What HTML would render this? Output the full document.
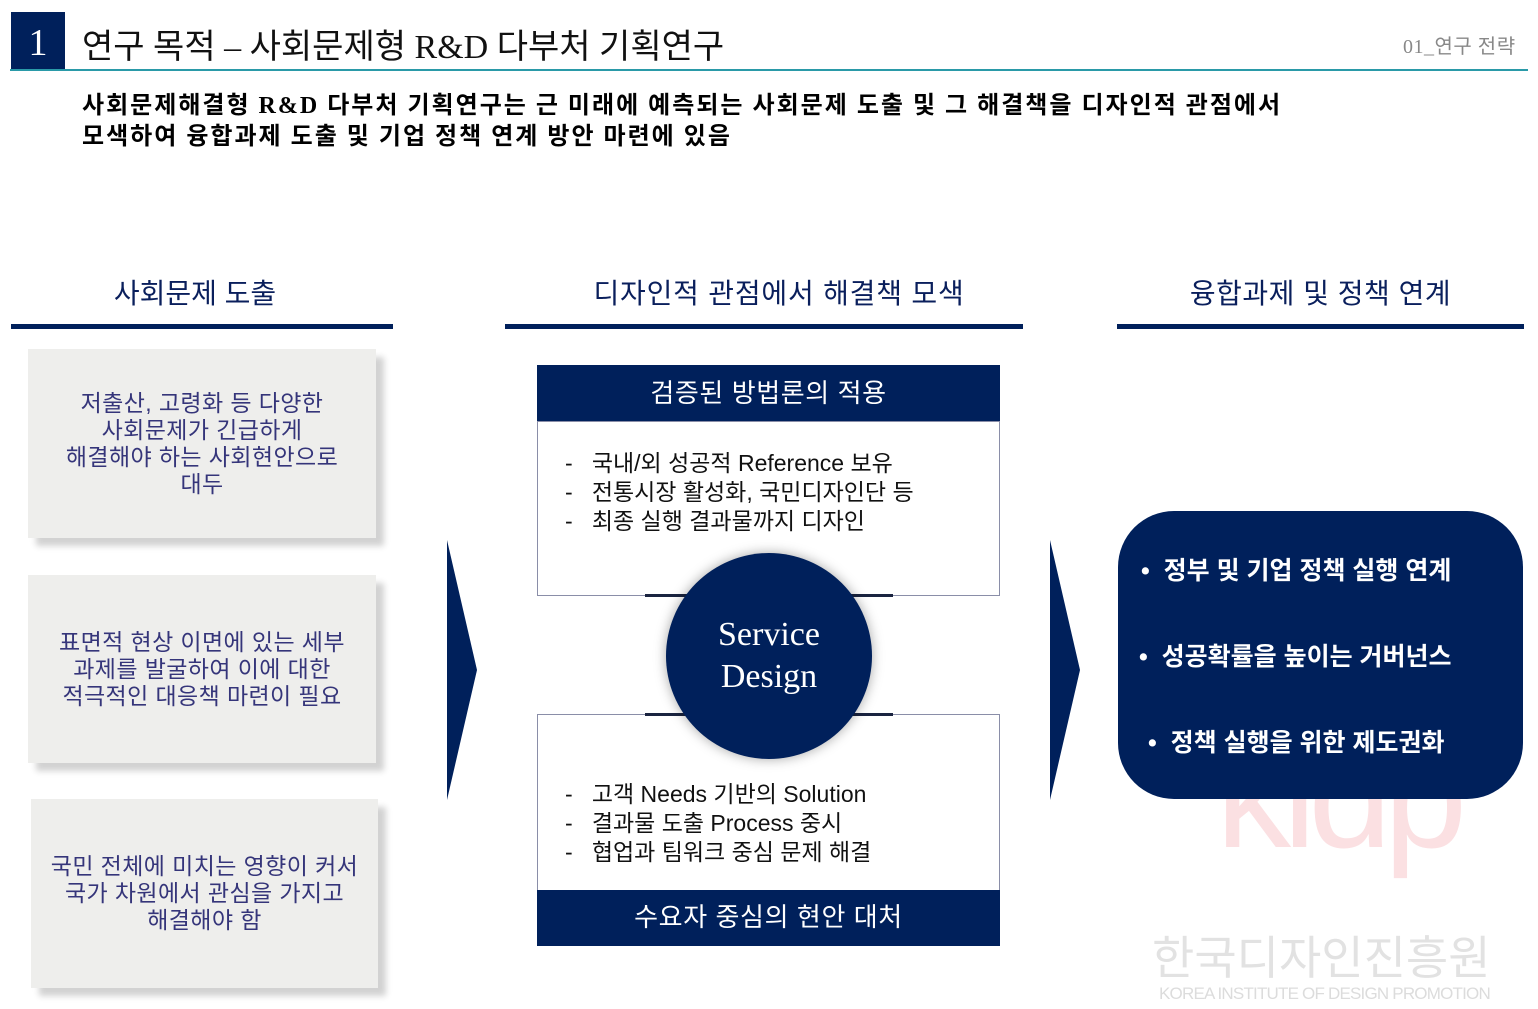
<!DOCTYPE html>
<html><head><meta charset="utf-8"><style>
*{margin:0;padding:0;box-sizing:border-box}
body{width:1538px;height:1009px;background:#fff;position:relative;overflow:hidden;font-family:"Liberation Sans","Noto Sans CJK KR",sans-serif}
.a{position:absolute}
.t{white-space:nowrap}
.lb{background:#eeeeec;box-shadow:8px 8px 6px rgba(0,0,0,0.18);color:#35357a;font-size:23px;letter-spacing:0.4px;line-height:27px;text-align:center;display:flex;align-items:center;justify-content:center}
.hd{font-size:28px;color:#0a1f5c;text-align:center}
.ul{height:5px;background:#00205b}
.nv{background:#00205b;color:#fff;text-align:center}
.bx{border:1.5px solid #8a8ea8;background:#fff}
.bl{font-size:23px;line-height:29px;color:#111}
.rb{font-size:25px;font-weight:bold;color:#fff}
</style></head><body>
<div class="a" style="left:11px;top:12px;width:54px;height:58px;background:#00205b;color:#fff;font-family:'Liberation Serif',serif;font-size:38px;text-align:center;line-height:62px">1</div>
<div class="a t" style="left:82px;top:19px;font-size:34px;color:#111;font-family:'Liberation Serif','Noto Sans CJK KR',sans-serif">연구 목적 – 사회문제형 R&amp;D 다부처 기획연구</div>
<div class="a" style="left:10px;top:69px;width:1518px;height:2px;background:#2a9aa8"></div>
<div class="a t" style="left:1403px;top:30px;font-size:20px;letter-spacing:0.5px;color:#888;font-family:'Liberation Serif','Noto Sans CJK KR',serif">01_연구 전략</div>
<div class="a t" style="left:82px;top:91px;font-size:24px;letter-spacing:2px;font-weight:bold;line-height:31px;color:#000;font-family:'Liberation Serif','Noto Sans CJK KR',sans-serif">사회문제해결형 R&amp;D 다부처 기획연구는 근 미래에 예측되는 사회문제 도출 및 그 해결책을 디자인적 관점에서<br>모색하여 융합과제 도출 및 기업 정책 연계 방안 마련에 있음</div>

<div class="a hd t" style="left:11px;width:368px;top:272px">사회문제 도출</div>
<div class="a ul" style="left:11px;width:382px;top:324px"></div>
<div class="a hd t" style="left:505px;width:548px;top:272px;letter-spacing:0.8px">디자인적 관점에서 해결책 모색</div>
<div class="a ul" style="left:505px;width:518px;top:324px"></div>
<div class="a hd t" style="left:1117px;width:407px;top:272px;letter-spacing:0.5px">융합과제 및 정책 연계</div>
<div class="a ul" style="left:1117px;width:407px;top:324px"></div>

<div class="a lb" style="left:28px;top:349px;width:348px;height:189px">저출산, 고령화 등 다양한<br>사회문제가 긴급하게<br>해결해야 하는 사회현안으로<br>대두</div>
<div class="a lb" style="left:28px;top:575px;width:348px;height:188px">표면적 현상 이면에 있는 세부<br>과제를 발굴하여 이에 대한<br>적극적인 대응책 마련이 필요</div>
<div class="a lb" style="left:31px;top:799px;width:347px;height:189px">국민 전체에 미치는 영향이 커서<br>국가 차원에서 관심을 가지고<br>해결해야 함</div>

<svg class="a" style="left:0;top:0" width="1538" height="1009">
<polygon points="447,540 477,670 447,800" fill="#00205b"/>
<polygon points="1050,540 1080,670 1050,800" fill="#00205b"/>
</svg>

<div class="a nv t" style="left:537px;top:365px;width:463px;height:56px;font-size:26px;letter-spacing:0.6px;line-height:56px">검증된 방법론의 적용</div>
<div class="a bx" style="left:537px;top:421px;width:463px;height:175px"></div>
<div class="a bl t" style="left:565px;top:449px">-&nbsp;&nbsp;&nbsp;국내/외 성공적 Reference 보유<br>-&nbsp;&nbsp;&nbsp;전통시장 활성화, 국민디자인단 등<br>-&nbsp;&nbsp;&nbsp;최종 실행 결과물까지 디자인</div>
<div class="a bx" style="left:537px;top:714px;width:463px;height:178px"></div>
<div class="a bl t" style="left:565px;top:780px">-&nbsp;&nbsp;&nbsp;고객 Needs 기반의 Solution<br>-&nbsp;&nbsp;&nbsp;결과물 도출 Process 중시<br>-&nbsp;&nbsp;&nbsp;협업과 팀워크 중심 문제 해결</div>
<div class="a nv t" style="left:537px;top:890px;width:463px;height:56px;font-size:26px;letter-spacing:0.6px;line-height:54px">수요자 중심의 현안 대처</div>
<div class="a" style="left:645px;top:594px;width:248px;height:3px;background:#1a2440"></div>
<div class="a" style="left:645px;top:713px;width:248px;height:3px;background:#1a2440"></div>
<div class="a nv" style="left:666px;top:553px;width:206px;height:206px;border-radius:50%;box-shadow:0 0 12px rgba(0,0,0,0.35);font-family:'Liberation Serif',serif;font-size:34px;line-height:42px;padding-top:61px">Service<br>Design</div>

<div class="a t" style="left:1216px;top:720px;font-size:150px;color:#fbe0e2;font-family:'Liberation Sans',sans-serif;letter-spacing:-8px;line-height:150px">kidp</div>
<div class="a" style="left:1118px;top:511px;width:405px;height:288px;background:#00205b;border-radius:56px"></div>
<div class="a rb t" style="left:1141px;top:551px">•&nbsp;&nbsp;정부 및 기업 정책 실행 연계</div>
<div class="a rb t" style="left:1139px;top:637px">•&nbsp;&nbsp;성공확률을 높이는 거버넌스</div>
<div class="a rb t" style="left:1148px;top:723px">•&nbsp;&nbsp;정책 실행을 위한 제도권화</div>
<div class="a t" style="left:1152px;top:922px;font-size:46px;color:#e2e2e2;letter-spacing:0px">한국디자인진흥원</div>
<div class="a t" style="left:1159px;top:984px;font-size:17px;color:#dcdcdc;letter-spacing:-0.8px">KOREA INSTITUTE OF DESIGN PROMOTION</div>
</body></html>
